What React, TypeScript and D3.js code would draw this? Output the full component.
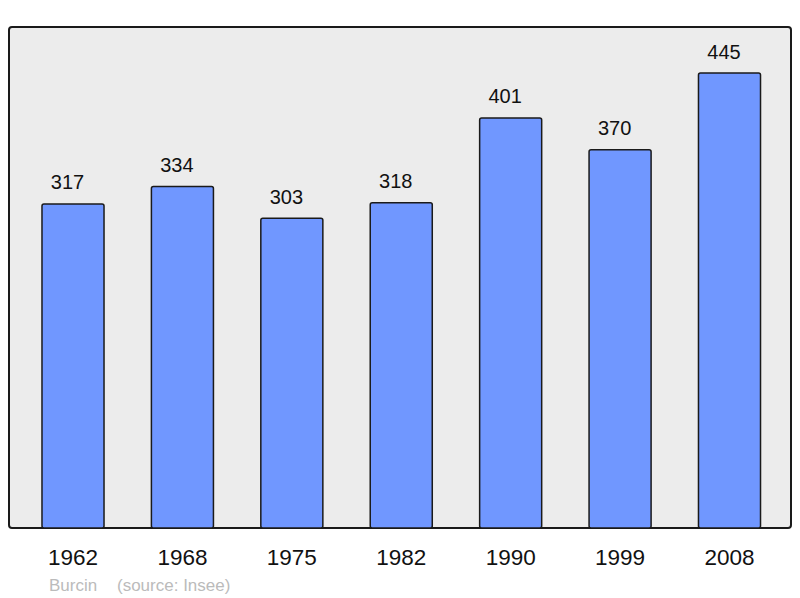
import React from 'react';
import { scaleBand, scaleLinear } from 'd3';

const years = ['1962', '1968', '1975', '1982', '1990', '1999', '2008'];
const population = [317, 334, 303, 318, 401, 370, 445];
const townName = 'Burcin';
const sourceText = '(source: Insee)';

const W = 800;
const H = 598;

const App = () => {
  // frame of the plot area
  const frame = { x: 9, y: 27, w: 782, h: 501 };
  const baseY = frame.y + frame.h;

  const x = scaleBand<string>()
    .domain(years)
    .range([18.3, 784.2])
    .paddingInner(0.433)
    .paddingOuter(0.2165);

  // 445 -> 455px tall
  const y = scaleLinear().domain([0, 445]).range([baseY, 73]);

  return (
    <svg
      width={W}
      height={H}
      style={{ position: 'absolute', left: 0, top: 0, fontFamily: 'Liberation Sans, Arial, sans-serif' }}
    >
      <rect x={0} y={0} width={W} height={H} fill="#ffffff" />
      <rect
        x={frame.x}
        y={frame.y}
        width={frame.w}
        height={frame.h}
        rx={3}
        fill="#ececec"
        stroke="#1a1a1a"
        strokeWidth={2}
      />
      {population.map((v, i) => {
        const bx = x(years[i]) as number;
        const cx = bx + x.bandwidth() / 2;
        return (
          <g key={years[i]}>
            <rect
              x={bx}
              y={y(v)}
              width={x.bandwidth()}
              height={baseY - y(v)}
              rx={2}
              fill="#7097ff"
              stroke="#1a1a1a"
              strokeWidth={1.5}
            />
            {/* value labels sit a little left of the bar centre */}
            <text x={cx - 5.5} y={y(v) - 14.5} textAnchor="middle" fontSize={20} fill="#111">
              {v}
            </text>
            <text x={cx} y={565} textAnchor="middle" fontSize={22.5} fill="#111">
              {years[i]}
            </text>
          </g>
        );
      })}
      <text x={49} y={590.5} fontSize={17} fill="#bbbbbb">
        {townName}
      </text>
      <text x={117} y={590.5} fontSize={17} fill="#bbbbbb">
        {sourceText}
      </text>
    </svg>
  );
};

export default App;
